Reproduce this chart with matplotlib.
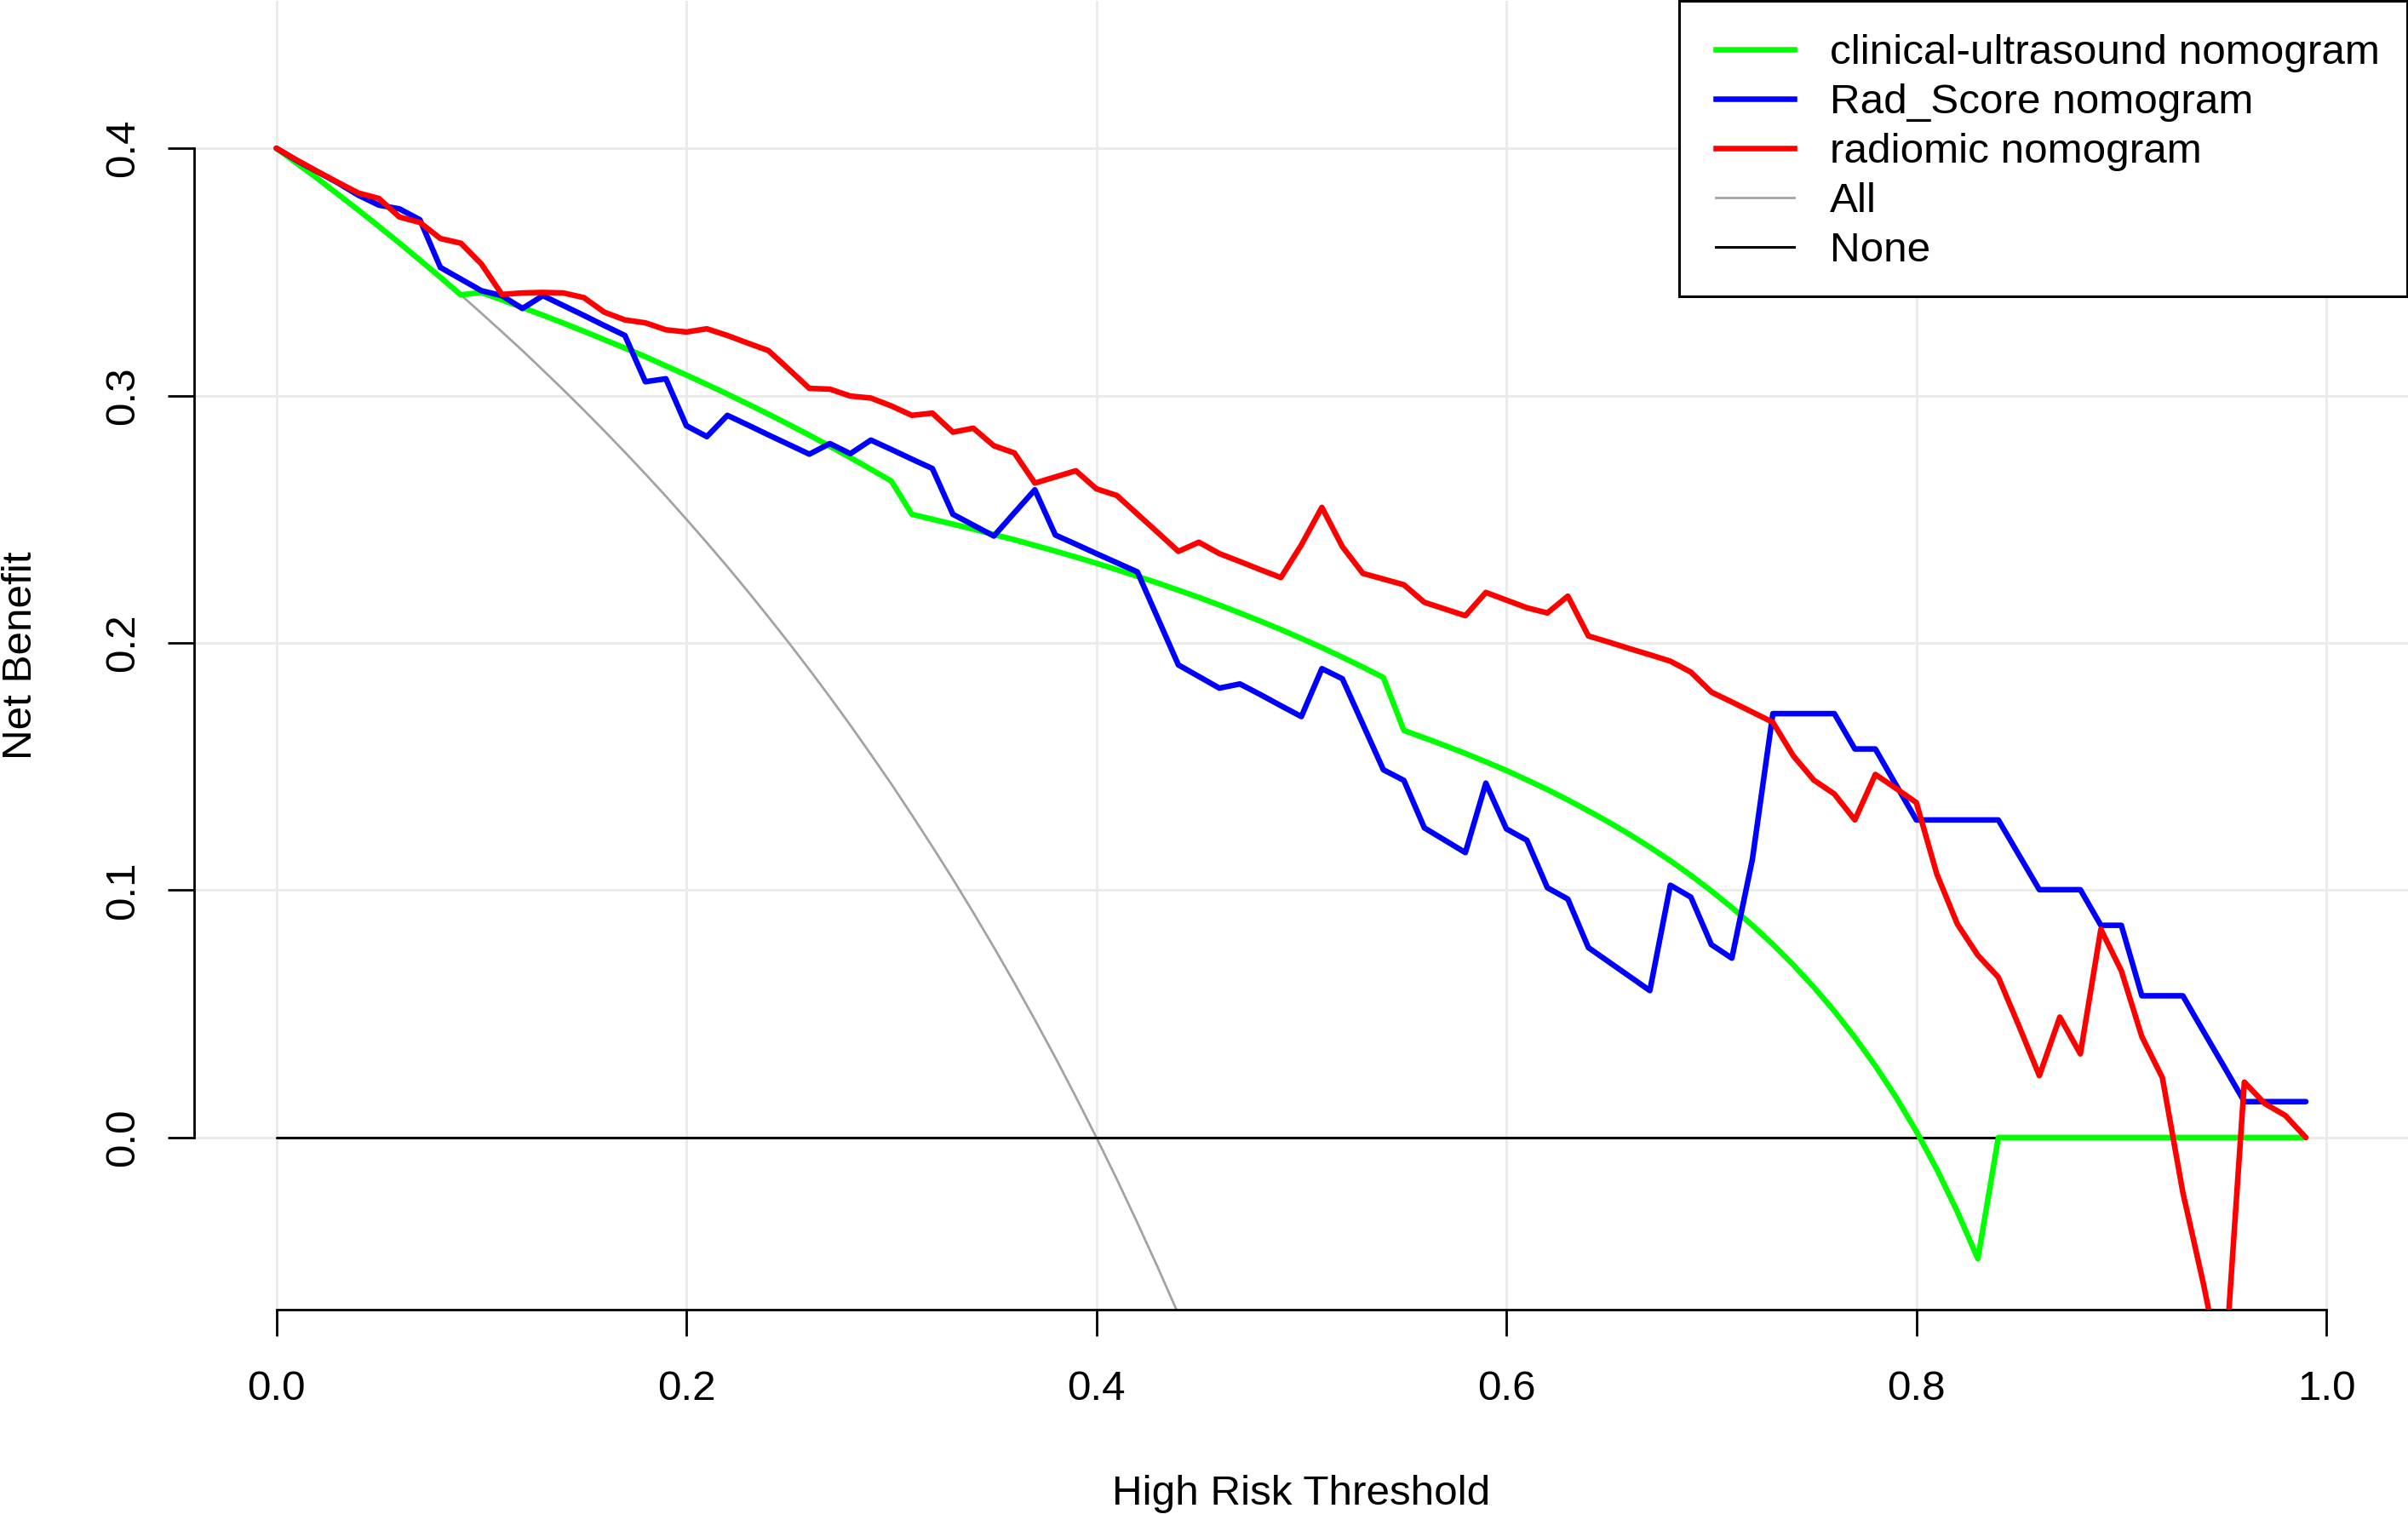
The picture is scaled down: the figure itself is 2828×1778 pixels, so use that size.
import numpy as np
import matplotlib
matplotlib.use("Agg")
import matplotlib.pyplot as plt
from matplotlib.lines import Line2D
from matplotlib.patches import Rectangle

plt.rcParams['font.family'] = ['Liberation Sans', 'DejaVu Sans']

# ---------------- data ----------------
thresholds = [round(i * 0.01, 2) for i in range(100)]

clinical_us = [
    0.4000, 0.3939, 0.3878, 0.3814, 0.3750, 0.3684, 0.3617, 0.3548, 0.3478, 0.3407,
    0.3417, 0.3387, 0.3356, 0.3325, 0.3293, 0.3260, 0.3226, 0.3192, 0.3157, 0.3120,
    0.3083, 0.3045, 0.3006, 0.2966, 0.2925, 0.2883, 0.2840, 0.2795, 0.2749, 0.2702,
    0.2654, 0.2520, 0.2500, 0.2480, 0.2460, 0.2438, 0.2417, 0.2394, 0.2371, 0.2347,
    0.2322, 0.2296, 0.2269, 0.2242, 0.2213, 0.2184, 0.2153, 0.2121, 0.2088, 0.2054,
    0.2018, 0.1981, 0.1942, 0.1902, 0.1860, 0.1646, 0.1616, 0.1585, 0.1553, 0.1519,
    0.1484, 0.1446, 0.1407, 0.1365, 0.1321, 0.1275, 0.1226, 0.1174, 0.1119, 0.1060,
    0.0997, 0.0930, 0.0858, 0.0781, 0.0698, 0.0608, 0.0511, 0.0405, 0.0290, 0.0164,
    0.0025, -0.0129, -0.0300, -0.0490, 0.0, 0.0, 0.0, 0.0, 0.0, 0.0,
    0.0, 0.0, 0.0, 0.0, 0.0, 0.0, 0.0, 0.0, 0.0, 0.0,
]

rad_score = [
    0.4000, 0.3950, 0.3905, 0.3860, 0.3810, 0.3770, 0.3755, 0.3711, 0.3518, 0.3471,
    0.3424, 0.3404, 0.3352, 0.3404, 0.3364, 0.3324, 0.3283, 0.3243, 0.3056, 0.3068,
    0.2878, 0.2834, 0.2920, 0.2881, 0.2841, 0.2802, 0.2763, 0.2806, 0.2765, 0.2820,
    0.2782, 0.2743, 0.2705, 0.2520, 0.2476, 0.2432, 0.2526, 0.2619, 0.2436, 0.2399,
    0.2361, 0.2324, 0.2287, 0.2099, 0.1911, 0.1864, 0.1817, 0.1834, 0.1791, 0.1746,
    0.1702, 0.1896, 0.1855, 0.1671, 0.1487, 0.1444, 0.1252, 0.1202, 0.1152, 0.1433,
    0.1248, 0.1202, 0.1010, 0.0964, 0.0768, 0.0710, 0.0652, 0.0594, 0.1020, 0.0972,
    0.0780, 0.0725, 0.1124, 0.1714, 0.1714, 0.1714, 0.1714, 0.1571, 0.1571, 0.1427,
    0.1284, 0.1284, 0.1284, 0.1284, 0.1284, 0.1143, 0.1002, 0.1002, 0.1002, 0.0858,
    0.0858, 0.0573, 0.0573, 0.0573, 0.0430, 0.0288, 0.0145, 0.0145, 0.0145, 0.0145,
]

radiomic = [
    0.4000, 0.3952, 0.3906, 0.3862, 0.3819, 0.3797, 0.3722, 0.3700, 0.3635, 0.3616,
    0.3532, 0.3409, 0.3415, 0.3417, 0.3415, 0.3396, 0.3337, 0.3306, 0.3294, 0.3266,
    0.3257, 0.3270, 0.3243, 0.3212, 0.3182, 0.3106, 0.3029, 0.3026, 0.2998, 0.2990,
    0.2958, 0.2920, 0.2929, 0.2852, 0.2868, 0.2797, 0.2768, 0.2646, 0.2671, 0.2696,
    0.2623, 0.2596, 0.2521, 0.2446, 0.2370, 0.2407, 0.2361, 0.2329, 0.2296, 0.2264,
    0.2396, 0.2548, 0.2389, 0.2281, 0.2258, 0.2235, 0.2164, 0.2137, 0.2110, 0.2204,
    0.2173, 0.2142, 0.2121, 0.2189, 0.2028, 0.2003, 0.1977, 0.1952, 0.1926, 0.1882,
    0.1801, 0.1761, 0.1720, 0.1679, 0.1543, 0.1445, 0.1389, 0.1284, 0.1468, 0.1412,
    0.1354, 0.1065, 0.0863, 0.0737, 0.0648, 0.0452, 0.0250, 0.0487, 0.0338, 0.0842,
    0.0674, 0.0408, 0.0242, -0.0222, -0.0590, -0.1000, 0.0224, 0.0137, 0.0089, 0.0000,
]

treat_all = [
    0.4000, 0.3939, 0.3878, 0.3814, 0.3750, 0.3684, 0.3617, 0.3548, 0.3478, 0.3407,
    0.3333, 0.3258, 0.3182, 0.3103, 0.3023, 0.2941, 0.2857, 0.2771, 0.2683, 0.2593,
    0.2500, 0.2405, 0.2308, 0.2208, 0.2105, 0.2000, 0.1892, 0.1781, 0.1667, 0.1549,
    0.1429, 0.1304, 0.1176, 0.1045, 0.0909, 0.0769, 0.0625, 0.0476, 0.0323, 0.0164,
    0.0000, -0.0169, -0.0345, -0.0526, -0.0714, -0.0909,
]

treat_none = [0.0] * 100

series_labels = ["clinical-ultrasound nomogram", "Rad_Score nomogram",
                 "radiomic nomogram", "All", "None"]
series_colors = ["#00FF00", "#0000FF", "#FF0000", "#A3A3A3", "#000000"]
series_widths = [2.35, 2.35, 2.35, 1.0, 1.1]

x_ticks = [0.0, 0.2, 0.4, 0.6, 0.8, 1.0]
x_tick_labels = ["0.0", "0.2", "0.4", "0.6", "0.8", "1.0"]
y_ticks = [0.0, 0.1, 0.2, 0.3, 0.4]
y_tick_labels = ["0.0", "0.1", "0.2", "0.3", "0.4"]

# ---------------- figure ----------------
W, H = 2828, 1778
DPI = 200
fig = plt.figure(figsize=(W / DPI, H / DPI), dpi=DPI)
fig.patch.set_facecolor("white")

def fx(px):
    return px / W

def fy(py):
    return 1 - py / H

ax_left, ax_right, ax_top, ax_bottom = 228.3, 2828.4, 1.0, 1538.0
ax = fig.add_axes([fx(ax_left), fy(ax_bottom), fx(ax_right - ax_left),
                   (ax_bottom - ax_top) / H])
ax.set_xlim(-0.04, 1.04)
ax.set_ylim(-0.0696, 0.4596)
ax.patch.set_alpha(0)

# grid
for xv in x_ticks:
    ax.axvline(xv, color="#EBEBEB", lw=1.05, zorder=0)
for yv in y_ticks:
    ax.axhline(yv, color="#EBEBEB", lw=1.05, zorder=0)

fsize = 17.8
lines_kw = dict(solid_joinstyle="round", solid_capstyle="round")
ax.plot(thresholds[:len(treat_all)], treat_all, color=series_colors[3],
        lw=series_widths[3], zorder=2, **lines_kw)
ax.plot(thresholds, treat_none, color=series_colors[4], lw=series_widths[4],
        zorder=2, **lines_kw)
ax.plot(thresholds, clinical_us, color=series_colors[0], lw=series_widths[0],
        zorder=3, **lines_kw)
ax.plot(thresholds, rad_score, color=series_colors[1], lw=series_widths[1],
        zorder=4, **lines_kw)
ax.plot(thresholds, radiomic, color=series_colors[2], lw=series_widths[2],
        zorder=5, **lines_kw)

# axes styling (R base style)
for s in ["top", "right"]:
    ax.spines[s].set_visible(False)
ax.spines["left"].set_bounds(0.0, 0.4)
ax.spines["bottom"].set_bounds(0.0, 1.0)
for s in ["left", "bottom"]:
    ax.spines[s].set_linewidth(1.0)
    ax.spines[s].set_color("black")

ax.set_xticks(x_ticks)
ax.set_xticklabels(x_tick_labels, fontsize=fsize)
ax.set_yticks(y_ticks)
ax.set_yticklabels(y_tick_labels, fontsize=fsize, rotation=90, va="center")
ax.tick_params(axis="both", direction="out", length=11.2, width=1.0, color="black")
ax.tick_params(axis="x", pad=14.3)
ax.tick_params(axis="y", pad=11.0)

# axis titles
fig.text(fx(1528), fy(1766.7), "High Risk Threshold", ha="center", va="baseline",
         fontsize=fsize)
fig.text(fx(37), fy(769.5), "Net Benefit", rotation=90, rotation_mode="anchor",
         ha="center", va="baseline", fontsize=fsize)

# legend (R style box, top right)
box_l, box_r, box_t, box_b = 1972, 2826.5, 1.0, 348
fig.add_artist(Rectangle((fx(box_l), fy(box_b)), fx(box_r - box_l),
                         (box_b - box_t) / H, transform=fig.transFigure,
                         facecolor="white", edgecolor="black", lw=1.1, zorder=10))
row_centers = [58, 116, 174, 232, 290]
for i, lab in enumerate(series_labels):
    yc = row_centers[i]
    fig.add_artist(Line2D([fx(2015), fx(2107)], [fy(yc), fy(yc)],
                          transform=fig.transFigure, color=series_colors[i],
                          lw=series_widths[i], zorder=11))
    fig.text(fx(2149), fy(yc + 17), lab, ha="left", va="baseline",
             fontsize=fsize, zorder=12)

fig.savefig("out.png", dpi=DPI, facecolor="white")
